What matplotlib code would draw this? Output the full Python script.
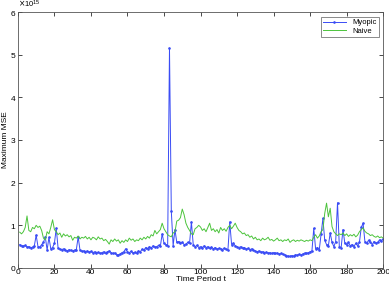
import matplotlib
matplotlib.use("Agg")
import matplotlib.pyplot as plt
import matplotlib.ticker as mticker
import numpy as np

plt.rcParams["font.family"] = ["Liberation Sans", "DejaVu Sans"]

# time periods 1..200
t = np.arange(1, 201)

myopic = [
    0.55, 0.52, 0.51, 0.53, 0.49, 0.50, 0.47, 0.49, 0.52, 0.77,
    0.50, 0.49, 0.55, 0.60, 0.73, 0.42, 0.72, 0.45, 0.48, 0.58,
    0.93, 0.47, 0.44, 0.43, 0.45, 0.42, 0.40, 0.43, 0.41, 0.40,
    0.42, 0.43, 0.73, 0.42, 0.39, 0.40, 0.38, 0.40, 0.37, 0.39,
    0.36, 0.38, 0.35, 0.37, 0.34, 0.36, 0.38, 0.34, 0.38, 0.40,
    0.36, 0.34, 0.35, 0.31, 0.30, 0.33, 0.36, 0.38, 0.45, 0.38,
    0.36, 0.39, 0.35, 0.37, 0.34, 0.40, 0.38, 0.44, 0.42, 0.48,
    0.45, 0.50, 0.47, 0.52, 0.49, 0.50, 0.53, 0.51, 0.80, 0.58,
    0.55, 0.52, 5.15, 1.33, 0.52, 0.90, 0.60, 0.62, 0.58, 0.60,
    0.55, 0.56, 0.60, 0.58, 1.08, 0.55, 0.50, 0.53, 0.48, 0.50,
    0.47, 0.52, 0.48, 0.50, 0.46, 0.49, 0.45, 0.48, 0.44, 0.46,
    0.45, 0.43, 0.46, 0.44, 0.42, 1.08, 0.55, 0.58, 0.52, 0.50,
    0.48, 0.50, 0.46, 0.48, 0.44, 0.46, 0.43, 0.45, 0.42, 0.40,
    0.38, 0.40, 0.37, 0.38, 0.36, 0.37, 0.35, 0.36, 0.34, 0.36,
    0.34, 0.35, 0.33, 0.34, 0.32, 0.31, 0.29, 0.28, 0.27, 0.29,
    0.28, 0.31, 0.30, 0.32, 0.30, 0.33, 0.35, 0.34, 0.36, 0.38,
    0.40, 0.93, 0.45, 0.48, 0.42, 0.80, 1.16, 0.65, 0.55, 0.52,
    0.82, 0.60, 0.50, 0.62, 1.53, 0.50, 0.48, 0.90, 0.58, 0.55,
    0.60, 0.52, 0.55, 0.50, 0.58, 0.52, 0.60, 0.95, 1.05, 0.62,
    0.58, 0.65, 0.60, 0.55, 0.62, 0.58, 0.60, 0.66, 0.64, 0.68,
]

naive = [
    0.84, 0.80, 0.85, 0.95, 1.22, 0.88, 0.85, 0.95, 0.92, 1.00,
    0.95, 0.98, 0.88, 0.70, 0.66, 0.85, 0.80, 0.95, 1.13, 0.90,
    0.85, 0.78, 0.82, 0.72, 0.80, 0.75, 0.78, 0.73, 0.76, 0.65,
    0.72, 0.70, 0.75, 0.68, 0.72, 0.70, 0.74, 0.68, 0.72, 0.66,
    0.72, 0.70, 0.66, 0.73, 0.68, 0.70, 0.64, 0.67, 0.62, 0.56,
    0.66, 0.62, 0.68, 0.63, 0.66, 0.58, 0.64, 0.60, 0.66, 0.62,
    0.70, 0.65, 0.68, 0.62, 0.66, 0.64, 0.70, 0.66, 0.72, 0.68,
    0.74, 0.70, 0.78, 0.75, 0.88, 0.80, 0.85, 0.90, 1.05, 0.92,
    0.85, 0.78, 0.75, 0.73, 0.82, 0.85, 1.10, 1.12, 1.18, 1.38,
    1.25, 1.05, 0.95, 0.88, 0.80, 0.78, 0.92, 0.95, 1.00, 0.96,
    0.88, 0.92, 0.85, 0.95, 1.05, 0.88, 0.92, 0.85, 0.90, 0.82,
    0.95, 0.88, 0.92, 0.86, 0.95, 1.00, 0.92, 0.98, 1.05, 0.95,
    0.88, 0.85, 0.80, 0.82, 0.76, 0.78, 0.72, 0.75, 0.68, 0.72,
    0.66, 0.68, 0.64, 0.70, 0.66, 0.68, 0.72, 0.65, 0.67, 0.63,
    0.66, 0.70, 0.64, 0.66, 0.62, 0.66, 0.64, 0.68, 0.60, 0.64,
    0.66, 0.62, 0.65, 0.63, 0.66, 0.64, 0.62, 0.65, 0.63, 0.66,
    0.64, 0.72, 0.78, 0.70, 0.75, 0.85, 0.90, 1.28, 1.52, 1.20,
    1.40, 0.97, 0.85, 0.80, 0.76, 0.80, 0.78, 0.82, 0.76, 0.80,
    0.74, 0.78, 0.75, 0.79, 0.73, 0.77, 0.85, 0.90, 0.94, 0.86,
    0.82, 0.80, 0.76, 0.78, 0.74, 0.72, 0.75, 0.71, 0.73, 0.70,
]

scale = 1e15

fig = plt.figure(figsize=(3.89, 2.86), dpi=100)
ax = fig.add_axes([0.046, 0.063, 0.939, 0.895])

ax.plot(t, np.array(myopic) * scale, color="#3a4cf5", lw=0.7,
        marker=".", ms=1.8, label="Myopic")
ax.plot(t, np.array(naive) * scale, color="#4cc43c", lw=0.7, label="Naive")

ax.set_xlim(0, 200)
ax.set_ylim(0, 6 * scale)
ax.set_xticks(np.arange(0, 201, 20))
ax.set_yticks(np.arange(0, 7) * scale)

fmt = mticker.ScalarFormatter(useMathText=True)
fmt.set_powerlimits((0, 0))
ax.yaxis.set_major_formatter(fmt)
ax.yaxis.get_offset_text().set_fontsize(5.5)

ax.tick_params(direction="in", length=3, width=0.5, labelsize=6,
               top=True, right=True, pad=1)
for s in ax.spines.values():
    s.set_linewidth(0.6)
    s.set_color("#555555")

ax.set_xlabel("Time Period t", fontsize=6, labelpad=-0.5)
ax.set_ylabel("Maximum MSE", fontsize=6, labelpad=0.5)

leg = ax.legend(loc="upper right", fontsize=5.5, frameon=True, fancybox=False,
                borderpad=0.3, handlelength=3, labelspacing=0.2,
                borderaxespad=0.6)
leg.get_frame().set_edgecolor("#555555")
leg.get_frame().set_linewidth(0.6)

fig.savefig("out.png", dpi=100)
